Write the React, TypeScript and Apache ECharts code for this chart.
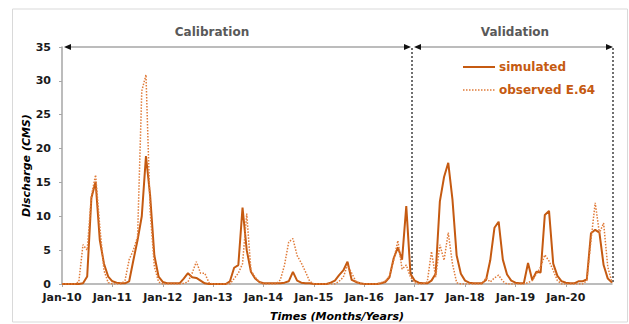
import React, { useEffect, useRef } from "react";
import * as echarts from "echarts";

const monthNames = ["Jan", "Feb", "Mar", "Apr", "May", "Jun", "Jul", "Aug", "Sep", "Oct", "Nov", "Dec"];
const years = ["10", "11", "12", "13", "14", "15", "16", "17", "18", "19", "20"];
const categories = years.flatMap((y) => monthNames.map((m) => `${m}-${y}`));

const simulated = [
  0, 0, 0, 0, 0, 0.1, 1.1, 12.7, 15.1, 6.5, 3.0, 1.1,
  0.4, 0.2, 0.1, 0.1, 0.4, 3.5, 6.5, 10, 18.9, 13, 4.2, 1.1,
  0.3, 0.1, 0.1, 0.1, 0.1, 0.8, 1.6, 1.0, 0.9, 0.5, 0.1, 0,
  0, 0, 0, 0, 0.4, 2.4, 2.8, 11.3, 5.0, 1.8, 0.8, 0.3,
  0.1, 0.1, 0.1, 0.1, 0.1, 0.2, 0.4, 1.8, 0.5, 0.2, 0.1, 0.1,
  0, 0, 0, 0, 0.2, 0.5, 1.3, 2.0, 3.3, 0.6, 0.3, 0.1,
  0, 0, 0, 0, 0.1, 0.3, 1.0, 3.8, 5.4, 3.6, 11.5, 1.5,
  0.5, 0.2, 0.1, 0.1, 0.5, 1.5, 12.2, 15.8, 17.9, 12.5, 4.2, 1.5,
  0.5, 0.2, 0.1, 0.1, 0.1, 0.6, 3.5, 8.3, 9.2, 3.6, 1.4, 0.5,
  0.2, 0.1, 0.1, 3.1, 0.6, 1.8, 1.7, 10.2, 10.8, 3.0, 1.2, 0.4,
  0.2, 0.1, 0.1, 0.4, 0.4, 0.7, 7.5, 8.0, 7.6, 2.8, 0.8, 0.2,
];

const observed = [
  0, 0, 0, 0, 0.3, 5.8, 5.0, 13, 16.1, 8.5, 2.0, 0.2,
  0, 0, 0, 0.5, 3.6, 5.0, 7.0, 28.5, 30.9, 10.7, 2.6, 0.3,
  0, 0, 0, 0, 0, 0.1, 0.3, 1.6, 3.3, 1.6, 1.6, 0.2,
  0, 0, 0, 0, 0, 0.8, 1.6, 3.0, 10.4, 2.0, 1.0, 0.3,
  0, 0, 0, 0, 0.6, 2.8, 6.2, 6.7, 4.2, 3.1, 1.8, 0.4,
  0, 0, 0, 0, 0, 0, 0.4, 1.0, 2.8, 1.6, 0.4, 0,
  0, 0, 0, 0, 0.2, 0.4, 1.2, 3.5, 6.4, 2.2, 2.8, 1.0,
  0.2, 0, 0, 0.3, 4.8, 1.0, 5.8, 3.5, 7.6, 3.0, 0.2, 0,
  0, 0, 0, 0, 0, 0.9, 0.3, 0.9, 1.3, 0.4, 0, 0,
  0, 0, 0, 0.2, 0.5, 1.5, 2.5, 4.3, 3.4, 2.0, 0.5, 0,
  0, 0, 0, 0, 0, 0.5, 6.5, 12, 7.5, 9.0, 2.5, 0.2,
];

const seriesNames = ["simulated", "observed E.64"];
const xTitle = "Times (Months/Years)";
const yTitle = "Discharge (CMS)";

const FONT = "DejaVu Sans";
const SIM_COLOR = "#C55A11";
const OBS_COLOR = "#E07B39";

export default function App() {
  const ref = useRef<HTMLDivElement>(null);
  useEffect(() => {
    if (!ref.current) return;
    const chart = echarts.init(ref.current, undefined, { renderer: "svg" });
    const arrowColor = "#a6a6a6";
    const headColor = "#111";
    const legendFont = `bold 12px "${FONT}"`;
    const titleFont = `italic bold 11px "${FONT}"`;
    chart.setOption({
      animation: false,
      backgroundColor: "#fff",
      grid: { left: 62, right: 17, top: 47, bottom: 40 },
      xAxis: {
        type: "category",
        data: categories,
        boundaryGap: false,
        axisLine: { lineStyle: { color: "#a6a6a6", width: 1.5 } },
        axisTick: { interval: 11, length: 3, lineStyle: { color: "#a6a6a6" } },
        axisLabel: { interval: 11, margin: 8, fontFamily: FONT, fontWeight: "bold", fontSize: 11, color: "#1a1a1a" },
        splitLine: { show: false },
      },
      yAxis: {
        type: "value",
        min: 0,
        max: 35,
        interval: 5,
        axisLine: { show: true, lineStyle: { color: "#a6a6a6", width: 1.5 } },
        axisTick: { show: true, length: 3, lineStyle: { color: "#a6a6a6" } },
        axisLabel: { margin: 11, fontFamily: FONT, fontWeight: "bold", fontSize: 11, color: "#1a1a1a" },
        splitLine: { show: false },
      },
      series: [
        {
          name: seriesNames[0],
          type: "line",
          data: simulated,
          symbol: "none",
          lineStyle: { color: SIM_COLOR, width: 2 },
          itemStyle: { color: SIM_COLOR },
          z: 2,
        },
        {
          name: seriesNames[1],
          type: "line",
          data: observed,
          symbol: "none",
          lineStyle: { color: OBS_COLOR, width: 1.5, type: [1.5, 1.5] },
          itemStyle: { color: OBS_COLOR },
          z: 3,
        },
      ],
      graphic: [
        { type: "rect", shape: { x: 12.5, y: 9, width: 615, height: 313 }, style: { fill: "none", stroke: "#d9d9d9", lineWidth: 1 }, silent: true },
        { type: "text", x: 212, y: 32, style: { text: "Calibration", fill: "#595959", font: `bold 12px "${FONT}"`, textAlign: "center", textVerticalAlign: "middle" } },
        { type: "text", x: 515, y: 32, style: { text: "Validation", fill: "#595959", font: `bold 12px "${FONT}"`, textAlign: "center", textVerticalAlign: "middle" } },
        { type: "line", shape: { x1: 68, y1: 47, x2: 407, y2: 47 }, style: { stroke: arrowColor, lineWidth: 1.5 } },
        { type: "line", shape: { x1: 418, y1: 47, x2: 609, y2: 47 }, style: { stroke: arrowColor, lineWidth: 1.5 } },
        { type: "polygon", shape: { points: [[64, 47], [71, 44], [71, 50]] }, style: { fill: headColor } },
        { type: "polygon", shape: { points: [[411, 47], [404, 44], [404, 50]] }, style: { fill: headColor } },
        { type: "polygon", shape: { points: [[414, 47], [421, 44], [421, 50]] }, style: { fill: headColor } },
        { type: "polygon", shape: { points: [[613, 47], [606, 44], [606, 50]] }, style: { fill: headColor } },
        { type: "line", shape: { x1: 412, y1: 48, x2: 412, y2: 284 }, style: { stroke: "#404040", lineWidth: 1.5, lineDash: [2, 2] } },
        { type: "line", shape: { x1: 613, y1: 48, x2: 613, y2: 284 }, style: { stroke: "#404040", lineWidth: 1.5, lineDash: [2, 2] } },
        // axis titles
        { type: "text", x: 337, y: 316, style: { text: xTitle, fill: "#000", font: titleFont, textAlign: "center", textVerticalAlign: "middle" } },
        { type: "text", x: 26.5, y: 165.5, rotation: Math.PI / 2, style: { text: yTitle, fill: "#000", font: titleFont, textAlign: "center", textVerticalAlign: "middle" } },
        // legend
        { type: "line", shape: { x1: 463, y1: 67, x2: 495, y2: 67 }, style: { stroke: SIM_COLOR, lineWidth: 2 } },
        { type: "text", x: 499, y: 67, style: { text: seriesNames[0], fill: SIM_COLOR, font: legendFont, textVerticalAlign: "middle" } },
        { type: "line", shape: { x1: 463, y1: 90, x2: 495, y2: 90 }, style: { stroke: OBS_COLOR, lineWidth: 1.5, lineDash: [1.5, 1.5] } },
        { type: "text", x: 499, y: 90, style: { text: seriesNames[1], fill: SIM_COLOR, font: legendFont, textVerticalAlign: "middle" } },
      ],
    });
    return () => chart.dispose();
  }, []);
  return <div ref={ref} style={{ position: "fixed", left: 0, top: 0, width: 629, height: 324 }} />;
}
